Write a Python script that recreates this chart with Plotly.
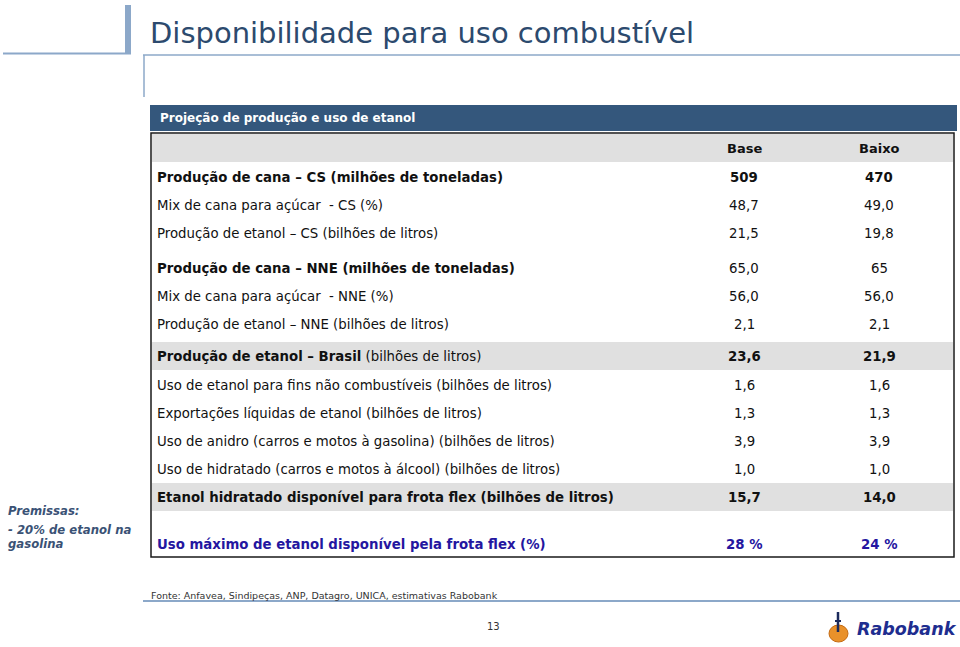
import plotly.graph_objects as go

# ---------------- data ----------------
title = "Disponibilidade para uso combustível"
panel_title = "Projeção de produção e uso de etanol"
columns = ["Base", "Baixo"]
labels = [
    "<b>Produção de cana – CS (milhões de toneladas)</b>",
    "Mix de cana para açúcar  - CS (%)",
    "Produção de etanol – CS (bilhões de litros)",
    "<b>Produção de cana – NNE (milhões de toneladas)</b>",
    "Mix de cana para açúcar  - NNE (%)",
    "Produção de etanol – NNE (bilhões de litros)",
    "<b>Produção de etanol – Brasil</b> (bilhões de litros)",
    "Uso de etanol para fins não combustíveis (bilhões de litros)",
    "Exportações líquidas de etanol (bilhões de litros)",
    "Uso de anidro (carros e motos à gasolina) (bilhões de litros)",
    "Uso de hidratado (carros e motos à álcool) (bilhões de litros)",
    "<b>Etanol hidratado disponível para frota flex (bilhões de litros)</b>",
    "<b>Uso máximo de etanol disponível pela frota flex (%)</b>",
]
base_values = ["509", "48,7", "21,5", "65,0", "56,0", "2,1", "23,6", "1,6", "1,3", "3,9", "1,0", "15,7", "28 %"]
baixo_values = ["470", "49,0", "19,8", "65", "56,0", "2,1", "21,9", "1,6", "1,3", "3,9", "1,0", "14,0", "24 %"]
bold_values = [True, False, False, False, False, False, True, False, False, False, False, True, True]
shaded_rows = [False, False, False, False, False, False, True, False, False, False, False, True, False]
highlight_rows = [False] * 12 + [True]
premissas = ["<b><i>Premissas:</i></b>", "<b><i>- 20% de etanol na</i></b>", "<b><i>gasolina</i></b>"]
source = "Fonte: Anfavea, Sindipeças, ANP, Datagro, UNICA, estimativas Rabobank"
page_number = "13"

# ---------------- layout helpers ----------------
row_y = [177, 205, 233, 268, 296, 324, 356, 385, 413, 441, 469, 497, 544]
col_x = [744, 879]
FONT = "DejaVu Sans"
DARK = "#111111"
BLUE_TXT = "#2416A0"
HEADER_BLUE = "#34577C"
LIGHT_BLUE = "#8CA8C9"
GRAY = "#E0E0E0"

shapes = []
annotations = []

def line(x0, y0, x1, y1, color, width):
    shapes.append(dict(type="line", x0=x0, y0=y0, x1=x1, y1=y1, xref="x", yref="y",
                       line=dict(color=color, width=width)))

def rect(x0, y0, x1, y1, fill, lc=None, lw=0):
    shapes.append(dict(type="rect", x0=x0, y0=y0, x1=x1, y1=y1, xref="x", yref="y",
                       fillcolor=fill, line=dict(color=lc or fill, width=lw), layer="below"))

def text(x, y, s, size, color=DARK, anchor="left", family=FONT):
    annotations.append(dict(x=x, y=y, xref="x", yref="y", text=s, showarrow=False,
                            xanchor=anchor, yanchor="middle",
                            font=dict(family=family, size=size, color=color)))

# decorative title lines
rect(125, 5, 131, 53, LIGHT_BLUE)
line(3, 53.5, 131, 53.5, LIGHT_BLUE, 2)
line(143, 55, 960, 55, LIGHT_BLUE, 1.5)
line(144, 55, 144, 97, LIGHT_BLUE, 1.5)
text(148, 33, title, 29, "#2C4A6E")

# header panel
rect(150, 105, 957, 131, HEADER_BLUE)
text(158, 118, "<b>" + panel_title + "</b>", 12, "#FFFFFF")

# table box
rect(152, 134, 953, 162, GRAY)
for i, sh in enumerate(shaded_rows):
    if sh:
        rect(152, row_y[i] - 14, 953, row_y[i] + 14, GRAY)
shapes.append(dict(type="rect", x0=151, y0=133, x1=954, y1=557, xref="x", yref="y",
                   line=dict(color="#1a1a1a", width=1.5), fillcolor="rgba(0,0,0,0)"))

for cx, c in zip(col_x, columns):
    text(cx, 148, "<b>" + c + "</b>", 13, DARK, "center")

for i, lab in enumerate(labels):
    color = BLUE_TXT if highlight_rows[i] else DARK
    text(155, row_y[i], lab, 13.3, color)
    for cx, vals in zip(col_x, (base_values, baixo_values)):
        v = vals[i]
        if bold_values[i]:
            v = "<b>" + v + "</b>"
        text(cx, row_y[i], v, 13.3, color, "center")

# premissas
for y, s in zip([511, 530, 544], premissas):
    text(6, y, s, 11.7, "#3A5275")

# footer
line(143, 601, 960, 601, LIGHT_BLUE, 2)
text(149, 595, source, 9.5, "#333333")
text(493, 626, page_number, 10, "#333333", "center")

# logo
shapes.append(dict(type="circle", x0=829, y0=625, x1=848, y1=642, xref="x", yref="y",
                   fillcolor="#E9912A", line=dict(color="#C46A12", width=1)))
line(838, 612, 838, 632, "#1B2A5C", 2.5)
line(835, 621, 841, 621, "#1B2A5C", 2)
text(855, 629, "<b><i>Rabobank</i></b>", 17.5, "#1E2D8F")

fig = go.Figure()
fig.add_trace(go.Scatter(x=[0, 960], y=[0, 647], mode="markers", marker=dict(opacity=0),
                         hoverinfo="skip", showlegend=False))
fig.update_layout(
    width=960, height=647,
    margin=dict(l=0, r=0, t=0, b=0),
    paper_bgcolor="white", plot_bgcolor="white",
    xaxis=dict(range=[0, 960], visible=False, fixedrange=True),
    yaxis=dict(range=[647, 0], visible=False, fixedrange=True),
    shapes=shapes, annotations=annotations, showlegend=False,
)
fig.write_html("out.html", config={"displayModeBar": False},
               post_script="document.body.style.margin='0';document.body.style.overflow='hidden';")
